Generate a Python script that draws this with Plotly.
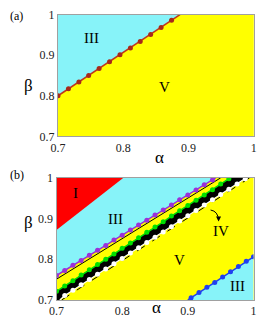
import plotly.graph_objects as go

# ---------------- data ----------------
ticks = [0.7, 0.8, 0.9, 1.0]
tick_text = ["0.7", "0.8", "0.9", "1"]

# panel (a): boundary III / V
a_alpha = [0.700, 0.716, 0.732, 0.747, 0.763, 0.779, 0.795, 0.811, 0.826, 0.842, 0.858, 0.874]
a_beta = [0.800, 0.817, 0.834, 0.850, 0.867, 0.884, 0.901, 0.918, 0.934, 0.951, 0.968, 0.986]
a_line_alpha = [0.700, 0.887]
a_line_beta = [0.800, 1.000]

# panel (b)
red_alpha = [0.700, 0.700, 0.802]
red_beta = [0.872, 1.000, 1.000]

purple_alpha = [0.7000, 0.7125, 0.7250, 0.7375, 0.7500, 0.7625, 0.7750, 0.7875, 0.8000, 0.8125,
                0.8250, 0.8375, 0.8500, 0.8625, 0.8750, 0.8875, 0.9000, 0.9125, 0.9250, 0.9375]
purple_beta = [0.760, 0.772, 0.785, 0.797, 0.810, 0.822, 0.834, 0.847, 0.859, 0.872,
               0.884, 0.896, 0.909, 0.921, 0.933, 0.946, 0.958, 0.970, 0.983, 0.995]
purple_end = [0.9424, 1.000]

thin_alpha = [0.700, 0.950]
thin_beta = [0.751, 1.000]

green_alpha = [0.7000, 0.7125, 0.7250, 0.7375, 0.7500, 0.7625, 0.7750, 0.7875, 0.8000, 0.8125, 0.8250,
               0.8375, 0.8500, 0.8625, 0.8750, 0.8875, 0.9000, 0.9125, 0.9250, 0.9375, 0.9500, 0.9625]
green_beta = [0.721, 0.734, 0.747, 0.761, 0.774, 0.787, 0.800, 0.813, 0.827, 0.840, 0.853,
              0.866, 0.879, 0.892, 0.906, 0.919, 0.932, 0.945, 0.958, 0.971, 0.985, 0.998]
green_end = [0.9645, 1.000]

white_alpha = [0.7125, 0.7250, 0.7375, 0.7500, 0.7625, 0.7750, 0.7875, 0.8000, 0.8125, 0.8250, 0.8375,
               0.8500, 0.8625, 0.8750, 0.8875, 0.9000, 0.9125, 0.9250, 0.9375, 0.9500, 0.9625, 0.9750, 0.9875]
white_beta = [0.711, 0.724, 0.737, 0.750, 0.763, 0.776, 0.789, 0.802, 0.815, 0.828, 0.841,
              0.854, 0.867, 0.880, 0.894, 0.907, 0.920, 0.933, 0.946, 0.959, 0.972, 0.985, 0.998]
white_start = [0.705, 0.700]
white_end = [0.989, 1.000]

dash_alpha = [0.708, 0.994]
dash_beta = [0.700, 1.000]

blue_alpha = [0.905, 0.917, 0.929, 0.941, 0.953, 0.965, 0.977, 0.989, 1.000]
blue_beta = [0.705, 0.718, 0.731, 0.743, 0.756, 0.769, 0.782, 0.795, 0.806]
blue_start = [0.900, 0.700]

CYAN = "#87f3f9"
YELLOW = "#ffff00"
SERIF = "Liberation Serif, Times New Roman, serif"

fig = go.Figure()

# ---------- panel (a) ----------
fig.add_trace(go.Scatter(x=[a_line_alpha[0], a_line_alpha[0], a_line_alpha[1]],
                         y=[a_line_beta[0], 1.0, a_line_beta[1]],
                         fill="toself", fillcolor=CYAN, mode="none", xaxis="x", yaxis="y"))
fig.add_trace(go.Scatter(x=a_line_alpha, y=a_line_beta, mode="lines",
                         line=dict(color="#c0361e", width=1.5), xaxis="x", yaxis="y"))
fig.add_trace(go.Scatter(x=a_alpha, y=a_beta, mode="markers",
                         marker=dict(color="#a8281a", size=5), xaxis="x", yaxis="y"))

# ---------- panel (b) ----------
fig.add_trace(go.Scatter(x=[purple_alpha[0], 0.7, purple_end[0]],
                         y=[purple_beta[0], 1.0, purple_end[1]],
                         fill="toself", fillcolor=CYAN, mode="none", xaxis="x2", yaxis="y2"))
fig.add_trace(go.Scatter(x=red_alpha, y=red_beta, fill="toself", fillcolor="#ff0000",
                         mode="none", xaxis="x2", yaxis="y2"))
band_x = green_alpha + [green_end[0], white_end[0]] + white_alpha[::-1] + [white_start[0], 0.7]
band_y = green_beta + [green_end[1], white_end[1]] + white_beta[::-1] + [white_start[1], 0.7]
fig.add_trace(go.Scatter(x=band_x, y=band_y, fill="toself", fillcolor="#000000",
                         mode="none", xaxis="x2", yaxis="y2"))
mid_x = [(g + w) / 2 for g, w in zip(green_alpha[1:], white_alpha[:-1])]
mid_y = [(g + w) / 2 for g, w in zip(green_beta[1:], white_beta[:-1])]
fig.add_trace(go.Scatter(x=mid_x, y=mid_y, mode="markers",
                         marker=dict(color="#000000", size=8), xaxis="x2", yaxis="y2"))
fig.add_trace(go.Scatter(x=[blue_start[0], blue_alpha[-1], 1.0],
                         y=[blue_start[1], blue_beta[-1], 0.7],
                         fill="toself", fillcolor=CYAN, mode="none", xaxis="x2", yaxis="y2"))
fig.add_trace(go.Scatter(x=thin_alpha, y=thin_beta, mode="lines",
                         line=dict(color="#000000", width=1), xaxis="x2", yaxis="y2"))
fig.add_trace(go.Scatter(x=purple_alpha + [purple_end[0]], y=purple_beta + [purple_end[1]],
                         mode="lines", line=dict(color="#9b30d8", width=1.5), xaxis="x2", yaxis="y2"))
fig.add_trace(go.Scatter(x=purple_alpha, y=purple_beta, mode="markers",
                         marker=dict(color="#9b30d8", size=5), xaxis="x2", yaxis="y2"))
fig.add_trace(go.Scatter(x=green_alpha + [green_end[0]], y=green_beta + [green_end[1]],
                         mode="lines", line=dict(color="#00e000", width=1.5), xaxis="x2", yaxis="y2"))
fig.add_trace(go.Scatter(x=green_alpha, y=green_beta, mode="markers",
                         marker=dict(color="#00e000", size=5), xaxis="x2", yaxis="y2"))
fig.add_trace(go.Scatter(x=dash_alpha, y=dash_beta, mode="lines",
                         line=dict(color="#000000", width=1, dash="dash"), xaxis="x2", yaxis="y2"))
fig.add_trace(go.Scatter(x=[white_start[0]] + white_alpha + [white_end[0]],
                         y=[white_start[1]] + white_beta + [white_end[1]],
                         mode="lines", line=dict(color="#ffffff", width=1.2), xaxis="x2", yaxis="y2"))
fig.add_trace(go.Scatter(x=white_alpha, y=white_beta, mode="markers",
                         marker=dict(color="#ffffff", size=5), xaxis="x2", yaxis="y2"))
fig.add_trace(go.Scatter(x=[blue_start[0]] + blue_alpha, y=[blue_start[1]] + blue_beta,
                         mode="lines", line=dict(color="#2040f0", width=1.5), xaxis="x2", yaxis="y2"))
fig.add_trace(go.Scatter(x=blue_alpha, y=blue_beta, mode="markers",
                         marker=dict(color="#2040f0", size=5), xaxis="x2", yaxis="y2"))

# curved arrow for IV
fig.add_shape(type="path", path="M 0.9347 0.921 Q 0.9460 0.918 0.9468 0.896",
              xref="x2", yref="y2", line=dict(color="#000000", width=1))

axis_common = dict(range=[0.7, 1.0], tickvals=ticks, ticktext=tick_text, showgrid=False,
                   zeroline=False, showline=True, linecolor="#a0a0a0", linewidth=1, mirror=True,
                   ticks="", tickfont=dict(family=SERIF, size=12, color="#222"))

fig.update_layout(
    width=261, height=331, margin=dict(l=0, r=0, t=0, b=0),
    paper_bgcolor="#ffffff", plot_bgcolor=YELLOW, showlegend=False,
    xaxis=dict(domain=[0.200, 0.983], anchor="y", **axis_common),
    yaxis=dict(domain=[0.592, 0.976], anchor="x", **axis_common),
    xaxis2=dict(domain=[0.194, 0.982], anchor="y2", **axis_common),
    yaxis2=dict(domain=[0.076, 0.461], anchor="x2", **axis_common),
)

txt = dict(family=SERIF, size=15, color="#000")
ann = [
    dict(text="(a)", x=0.0, y=1.0, xref="paper", yref="paper", xanchor="left", yanchor="top",
         showarrow=False, font=dict(family=SERIF, size=12, color="#000")),
    dict(text="(b)", x=0.0, y=0.497, xref="paper", yref="paper", xanchor="left", yanchor="top",
         showarrow=False, font=dict(family=SERIF, size=12, color="#000")),
    dict(text="β", x=15 / 261, y=1 - 70 / 331, xref="paper", yref="paper", showarrow=False,
         font=dict(family=SERIF, size=17, color="#000")),
    dict(text="β", x=15 / 261, y=1 - 237 / 331, xref="paper", yref="paper", showarrow=False,
         font=dict(family=SERIF, size=17, color="#000")),
    dict(text="α", x=158 / 261, y=1 - 157 / 331, xref="paper", yref="paper", showarrow=False,
         font=dict(family=SERIF, size=17, color="#000")),
    dict(text="α", x=155 / 261, y=1 - 326 / 331, xref="paper", yref="paper", showarrow=False,
         font=dict(family=SERIF, size=17, color="#000")),
    dict(text="III", x=0.751, y=0.943, xref="x", yref="y", showarrow=False, font=txt),
    dict(text="V", x=0.8625, y=0.822, xref="x", yref="y", showarrow=False, font=txt),
    dict(text="I", x=0.7296, y=0.962, xref="x2", yref="y2", showarrow=False, font=txt),
    dict(text="III", x=0.790, y=0.898, xref="x2", yref="y2", showarrow=False, font=txt),
    dict(text="V", x=0.887, y=0.798, xref="x2", yref="y2", showarrow=False, font=txt),
    dict(text="IV", x=0.9507, y=0.870, xref="x2", yref="y2", showarrow=False, font=txt),
    dict(text="III", x=0.975, y=0.733, xref="x2", yref="y2", showarrow=False, font=txt),
    dict(text="", x=0.9468, y=0.893, xref="x2", yref="y2", showarrow=True, ax=0, ay=-4,
         arrowhead=2, arrowsize=1, arrowwidth=1, arrowcolor="#000"),
]
fig.update_layout(annotations=ann)

fig.write_html("out.html", config={"displayModeBar": False},
               post_script="document.body.style.margin='0';document.body.style.padding='0';")
